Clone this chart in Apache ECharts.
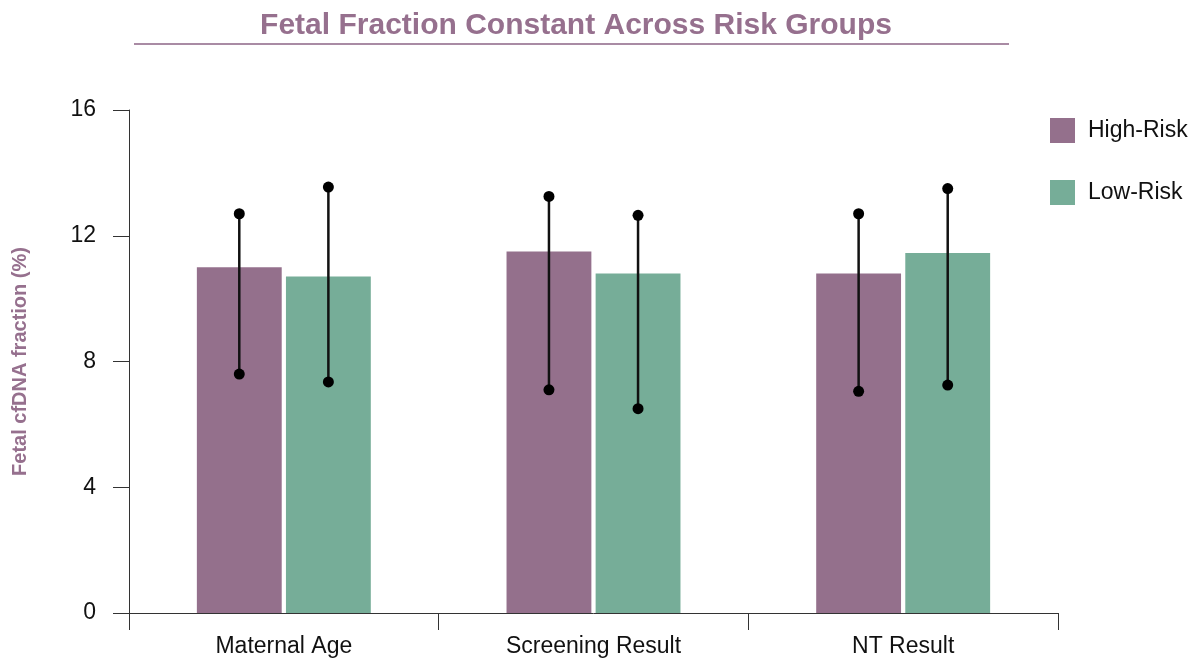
<!DOCTYPE html>
<html>
<head>
<meta charset="utf-8">
<script src="https://cdn.jsdelivr.net/npm/echarts@6/dist/echarts.min.js"></script>
<style>html,body{margin:0;padding:0;background:#fff}#c{width:1197px;height:660px}</style>
</head>
<body>
<div id="c"></div>
<script>
const categories = ['Maternal Age', 'Screening Result', 'NT Result'];
const seriesNames = ['High-Risk', 'Low-Risk'];
const highRisk = [11.0, 11.5, 10.8];
const lowRisk = [10.7, 10.8, 11.45];
const highErrLow = [7.6, 7.1, 7.05];
const highErrHigh = [12.7, 13.25, 12.7];
const lowErrLow = [7.35, 6.5, 7.25];
const lowErrHigh = [13.55, 12.65, 13.5];
const yTicks = [0, 4, 8, 12, 16];

const purple = '#94708c';
const green = '#76ad98';
const BAR_FRAC = 0.274;
const GAP_FRAC = 0.05;
const FONT = 'Liberation Sans, Arial, sans-serif';

function errRender(sign) {
  return function (params, api) {
    const idx = api.value(0);
    const lo = api.value(1), hi = api.value(2);
    const band = api.size([1, 0])[0];
    const bw = band * BAR_FRAC;
    const gap = bw * GAP_FRAC;
    const c = api.coord([idx, lo]);
    const x = c[0] + sign * (gap / 2 + bw / 2);
    const pLo = api.coord([idx, lo])[1];
    const pHi = api.coord([idx, hi])[1];
    return {
      type: 'group',
      children: [
        {type: 'line', shape: {x1: x, y1: pLo, x2: x, y2: pHi}, style: {stroke: '#111', lineWidth: 2.5}},
        {type: 'circle', shape: {cx: x, cy: pLo, r: 5.5}, style: {fill: '#000'}},
        {type: 'circle', shape: {cx: x, cy: pHi, r: 5.5}, style: {fill: '#000'}}
      ]
    };
  };
}

const chart = echarts.init(document.getElementById('c'), null, {renderer: 'canvas'});
chart.setOption({
  animation: false,
  backgroundColor: '#fff',
  title: {
    text: 'Fetal Fraction Constant Across Risk Groups',
    left: 571, top: 6, textAlign: 'center',
    textStyle: {color: '#96708e', fontSize: 30, fontWeight: 'bold', fontFamily: FONT}
  },
  graphic: [{
    type: 'line', shape: {x1: 134, y1: 44, x2: 1009, y2: 44},
    style: {stroke: '#a98ba4', lineWidth: 2}
  }],
  legend: {
    orient: 'vertical', left: 1045, top: 113,
    itemWidth: 25, itemHeight: 25, itemGap: 37,
    icon: 'rect',
    data: seriesNames,
    textStyle: {fontSize: 23, color: '#111', fontFamily: FONT, padding: [0, 0, 0, 8]}
  },
  grid: {left: 129, right: 139, top: 110, bottom: 47, containLabel: false},
  xAxis: {
    type: 'category', data: categories,
    axisLine: {show: true, lineStyle: {color: '#333', width: 1}},
    axisTick: {show: true, length: 17, lineStyle: {color: '#333'}},
    axisLabel: {fontSize: 23, color: '#111', margin: 22, fontFamily: FONT},
    splitLine: {show: false}
  },
  yAxis: {
    type: 'value', min: yTicks[0], max: yTicks[yTicks.length - 1], interval: 4,
    name: 'Fetal cfDNA fraction (%)', nameLocation: 'middle', nameGap: 99,
    nameTextStyle: {color: '#96708e', fontSize: 20, fontWeight: 'bold', fontFamily: FONT},
    axisLine: {show: true, lineStyle: {color: '#333', width: 1}},
    axisTick: {show: true, length: 16, lineStyle: {color: '#333'}},
    axisLabel: {fontSize: 23, color: '#111', margin: 33, fontFamily: FONT},
    splitLine: {show: false}
  },
  series: [
    {name: seriesNames[0], type: 'bar', data: highRisk, barWidth: (BAR_FRAC * 100) + '%', barGap: (GAP_FRAC * 100) + '%', itemStyle: {color: purple}},
    {name: seriesNames[1], type: 'bar', data: lowRisk, barWidth: (BAR_FRAC * 100) + '%', barGap: (GAP_FRAC * 100) + '%', itemStyle: {color: green}},
    {type: 'custom', name: 'errHigh', renderItem: errRender(-1), data: categories.map((c, i) => [i, highErrLow[i], highErrHigh[i]]), z: 10, silent: true},
    {type: 'custom', name: 'errLow', renderItem: errRender(1), data: categories.map((c, i) => [i, lowErrLow[i], lowErrHigh[i]]), z: 10, silent: true}
  ]
});
</script>
</body>
</html>
